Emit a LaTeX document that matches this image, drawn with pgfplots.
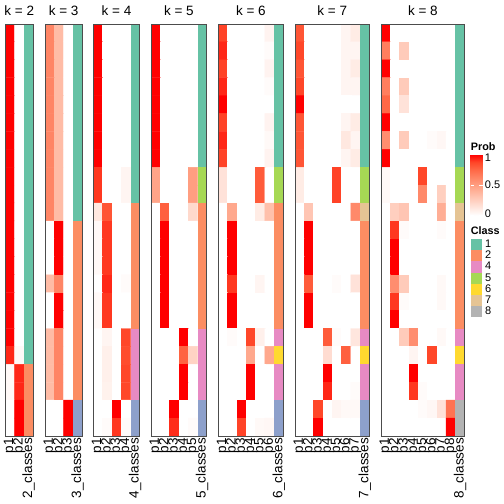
\documentclass[border=0pt]{standalone}
\usepackage{fontspec}
\setmainfont{Liberation Sans}
\usepackage{pgfplots}
\pgfplotsset{compat=1.18}
\definecolor{c1}{RGB}{102,194,165}
\definecolor{c2}{RGB}{252,141,98}
\definecolor{c3}{RGB}{141,160,203}
\definecolor{c4}{RGB}{231,138,195}
\definecolor{c5}{RGB}{166,216,84}
\definecolor{c6}{RGB}{255,217,47}
\definecolor{c7}{RGB}{229,196,148}
\definecolor{c8}{RGB}{179,179,179}
\newcommand{\cls}[5]{\addplot[draw=none, fill=#5, forget plot] coordinates {(#1,#3) (#2,#3) (#2,#4) (#1,#4)} --cycle;}
\pgfplotsset{
  colormap={prob}{rgb255=(255,255,255) rgb255=(255,231,223) rgb255=(255,207,191) rgb255=(255,183,160) rgb255=(255,158,129) rgb255=(255,132,100) rgb255=(255,104,70) rgb255=(255,70,40) rgb255=(255,0,0)},
  every axis title/.style={at={(0.5,1)}, anchor=base, yshift=8.3bp, inner sep=0pt, font=\fontsize{13.5bp}{16bp}\selectfont},
  hm/.style={
    scale only axis, height=412bp, anchor=north west,
    y dir=reverse, ymin=0.5, ymax=23.5, xmin=0.5,
    axis on top, axis line style={draw=black!70, line width=0.75bp},
    ytick=\empty, major tick length=0pt,
    xticklabel style={rotate=90, anchor=east, inner sep=0pt, inner xsep=2bp, font=\fontsize{13.5bp}{16bp}\selectfont},
    colormap name=prob, point meta min=0, point meta max=1,
  },
}
\begin{document}
\begin{tikzpicture}
\useasboundingbox (0,0) rectangle (504bp,-504bp);
% ---------------- k = 2
\begin{axis}[hm, at={(5.3bp,-24bp)}, width=27.9bp, xmax=3.5, xtick={1,2,3}, xticklabels={p1,p2,2\_classes}, title={k = 2}]
\addplot[matrix plot*, point meta=explicit, mesh/cols=2, forget plot] table[row sep=\\, meta=p] {
x y p\\
1 1 1\\ 2 1 0\\
1 2 1\\ 2 2 0\\
1 3 1\\ 2 3 0\\
1 4 1\\ 2 4 0\\
1 5 1\\ 2 5 0\\
1 6 1\\ 2 6 0\\
1 7 1\\ 2 7 0\\
1 8 1\\ 2 8 0\\
1 9 1\\ 2 9 0\\
1 10 1\\ 2 10 0\\
1 11 1\\ 2 11 0\\
1 12 1\\ 2 12 0\\
1 13 1\\ 2 13 0\\
1 14 1\\ 2 14 0\\
1 15 1\\ 2 15 0\\
1 16 1\\ 2 16 0\\
1 17 1\\ 2 17 0\\
1 18 1\\ 2 18 0\\
1 19 0.93\\ 2 19 0.03\\
1 20 0.03\\ 2 20 0.93\\
1 21 0.03\\ 2 21 0.93\\
1 22 0\\ 2 22 1\\
1 23 0\\ 2 23 1\\
};
\cls{2.5}{3.5}{0.5}{19.5}{c1}
\cls{2.5}{3.5}{19.5}{23.5}{c2}
\end{axis}
% ---------------- k = 3
\begin{axis}[hm, at={(45bp,-24bp)}, width=37.2bp, xmax=4.5, xtick={1,2,3,4}, xticklabels={p1,p2,p3,3\_classes}, title={k = 3}]
\addplot[matrix plot*, point meta=explicit, mesh/cols=3, forget plot] table[row sep=\\, meta=p] {
x y p\\
1 1 0.62\\ 2 1 0.35\\ 3 1 0\\
1 2 0.62\\ 2 2 0.35\\ 3 2 0\\
1 3 0.62\\ 2 3 0.35\\ 3 3 0\\
1 4 0.62\\ 2 4 0.35\\ 3 4 0\\
1 5 0.62\\ 2 5 0.35\\ 3 5 0\\
1 6 0.62\\ 2 6 0.35\\ 3 6 0\\
1 7 0.62\\ 2 7 0.35\\ 3 7 0\\
1 8 0.62\\ 2 8 0.35\\ 3 8 0\\
1 9 0.62\\ 2 9 0.35\\ 3 9 0\\
1 10 0.62\\ 2 10 0.35\\ 3 10 0\\
1 11 0.62\\ 2 11 0.35\\ 3 11 0\\
1 12 0\\ 2 12 1\\ 3 12 0\\
1 13 0\\ 2 13 1\\ 3 13 0\\
1 14 0\\ 2 14 1\\ 3 14 0\\
1 15 0.35\\ 2 15 0.62\\ 3 15 0\\
1 16 0\\ 2 16 1\\ 3 16 0\\
1 17 0\\ 2 17 1\\ 3 17 0\\
1 18 0.35\\ 2 18 0.62\\ 3 18 0\\
1 19 0.35\\ 2 19 0.62\\ 3 19 0\\
1 20 0.35\\ 2 20 0.62\\ 3 20 0\\
1 21 0.35\\ 2 21 0.62\\ 3 21 0\\
1 22 0\\ 2 22 0\\ 3 22 1\\
1 23 0\\ 2 23 0\\ 3 23 1\\
};
\cls{3.5}{4.5}{0.5}{11.5}{c1}
\cls{3.5}{4.5}{11.5}{21.5}{c2}
\cls{3.5}{4.5}{21.5}{23.5}{c3}
\end{axis}
% ---------------- k = 4
\begin{axis}[hm, at={(93.3bp,-24bp)}, width=46.5bp, xmax=5.5, xtick={1,2,3,4,5}, xticklabels={p1,p2,p3,p4,4\_classes}, title={k = 4}]
\addplot[matrix plot*, point meta=explicit, mesh/cols=4, forget plot] table[row sep=\\, meta=p] {
x y p\\
1 1 1\\ 2 1 0\\ 3 1 0\\ 4 1 0\\
1 2 1\\ 2 2 0\\ 3 2 0\\ 4 2 0\\
1 3 1\\ 2 3 0\\ 3 3 0\\ 4 3 0\\
1 4 1\\ 2 4 0\\ 3 4 0\\ 4 4 0\\
1 5 1\\ 2 5 0\\ 3 5 0\\ 4 5 0\\
1 6 1\\ 2 6 0\\ 3 6 0\\ 4 6 0\\
1 7 1\\ 2 7 0\\ 3 7 0\\ 4 7 0\\
1 8 1\\ 2 8 0\\ 3 8 0\\ 4 8 0\\
1 9 0.9\\ 2 9 0\\ 3 9 0\\ 4 9 0.05\\
1 10 0.9\\ 2 10 0\\ 3 10 0\\ 4 10 0.05\\
1 11 0.12\\ 2 11 0.82\\ 3 11 0\\ 4 11 0\\
1 12 0.03\\ 2 12 0.9\\ 3 12 0\\ 4 12 0\\
1 13 0.03\\ 2 13 0.9\\ 3 13 0\\ 4 13 0\\
1 14 0.03\\ 2 14 0.9\\ 3 14 0\\ 4 14 0\\
1 15 0\\ 2 15 0.93\\ 3 15 0\\ 4 15 0.02\\
1 16 0.03\\ 2 16 0.9\\ 3 16 0\\ 4 16 0\\
1 17 0.03\\ 2 17 0.9\\ 3 17 0\\ 4 17 0\\
1 18 0\\ 2 18 0.05\\ 3 18 0\\ 4 18 0.87\\
1 19 0\\ 2 19 0.08\\ 3 19 0\\ 4 19 0.85\\
1 20 0\\ 2 20 0.08\\ 3 20 0\\ 4 20 0.87\\
1 21 0\\ 2 21 0.07\\ 3 21 0\\ 4 21 0.87\\
1 22 0\\ 2 22 0\\ 3 22 1\\ 4 22 0\\
1 23 0\\ 2 23 0.02\\ 3 23 0.9\\ 4 23 0.02\\
};
\cls{4.5}{5.5}{0.5}{10.5}{c1}
\cls{4.5}{5.5}{10.5}{17.5}{c2}
\cls{4.5}{5.5}{17.5}{21.5}{c4}
\cls{4.5}{5.5}{21.5}{23.5}{c3}
\end{axis}
% ---------------- k = 5
\begin{axis}[hm, at={(151bp,-24bp)}, width=55.8bp, xmax=6.5, xtick={1,2,3,4,5,6}, xticklabels={p1,p2,p3,p4,p5,5\_classes}, title={k = 5}]
\addplot[matrix plot*, point meta=explicit, mesh/cols=5, forget plot] table[row sep=\\, meta=p] {
x y p\\
1 1 1\\ 2 1 0\\ 3 1 0\\ 4 1 0\\ 5 1 0\\
1 2 1\\ 2 2 0\\ 3 2 0\\ 4 2 0\\ 5 2 0\\
1 3 1\\ 2 3 0\\ 3 3 0\\ 4 3 0\\ 5 3 0\\
1 4 1\\ 2 4 0\\ 3 4 0\\ 4 4 0\\ 5 4 0\\
1 5 1\\ 2 5 0\\ 3 5 0\\ 4 5 0\\ 5 5 0\\
1 6 1\\ 2 6 0\\ 3 6 0\\ 4 6 0\\ 5 6 0\\
1 7 1\\ 2 7 0\\ 3 7 0\\ 4 7 0\\ 5 7 0\\
1 8 1\\ 2 8 0\\ 3 8 0\\ 4 8 0\\ 5 8 0\\
1 9 0.47\\ 2 9 0\\ 3 9 0\\ 4 9 0\\ 5 9 0.5\\
1 10 0.47\\ 2 10 0\\ 3 10 0\\ 4 10 0\\ 5 10 0.5\\
1 11 0\\ 2 11 0.78\\ 3 11 0\\ 4 11 0\\ 5 11 0.2\\
1 12 0\\ 2 12 1\\ 3 12 0\\ 4 12 0\\ 5 12 0\\
1 13 0\\ 2 13 1\\ 3 13 0\\ 4 13 0\\ 5 13 0\\
1 14 0\\ 2 14 1\\ 3 14 0\\ 4 14 0\\ 5 14 0\\
1 15 0\\ 2 15 1\\ 3 15 0\\ 4 15 0\\ 5 15 0\\
1 16 0\\ 2 16 1\\ 3 16 0\\ 4 16 0\\ 5 16 0\\
1 17 0\\ 2 17 1\\ 3 17 0\\ 4 17 0\\ 5 17 0\\
1 18 0\\ 2 18 0\\ 3 18 0\\ 4 18 1\\ 5 18 0\\
1 19 0\\ 2 19 0\\ 3 19 0\\ 4 19 0.77\\ 5 19 0.23\\
1 20 0\\ 2 20 0\\ 3 20 0\\ 4 20 1\\ 5 20 0\\
1 21 0\\ 2 21 0\\ 3 21 0\\ 4 21 1\\ 5 21 0\\
1 22 0\\ 2 22 0\\ 3 22 1\\ 4 22 0\\ 5 22 0\\
1 23 0\\ 2 23 0\\ 3 23 0.92\\ 4 23 0\\ 5 23 0.02\\
};
\cls{5.5}{6.5}{0.5}{8.5}{c1}
\cls{5.5}{6.5}{8.5}{10.5}{c5}
\cls{5.5}{6.5}{10.5}{17.5}{c2}
\cls{5.5}{6.5}{17.5}{21.5}{c4}
\cls{5.5}{6.5}{21.5}{23.5}{c3}
\end{axis}
% ---------------- k = 6
\begin{axis}[hm, at={(218.3bp,-24bp)}, width=65.1bp, xmax=7.5, xtick={1,2,3,4,5,6,7}, xticklabels={p1,p2,p3,p4,p5,p6,6\_classes}, title={k = 6}]
\addplot[matrix plot*, point meta=explicit, mesh/cols=6, forget plot] table[row sep=\\, meta=p] {
x y p\\
1 1 0.88\\ 2 1 0\\ 3 1 0\\ 4 1 0\\ 5 1 0\\ 6 1 0.06\\
1 2 0.93\\ 2 2 0\\ 3 2 0\\ 4 2 0\\ 5 2 0\\ 6 2 0.02\\
1 3 0.88\\ 2 3 0\\ 3 3 0\\ 4 3 0\\ 5 3 0\\ 6 3 0.06\\
1 4 0.93\\ 2 4 0\\ 3 4 0\\ 4 4 0\\ 5 4 0\\ 6 4 0.02\\
1 5 1\\ 2 5 0\\ 3 5 0\\ 4 5 0\\ 5 5 0\\ 6 5 0\\
1 6 0.88\\ 2 6 0\\ 3 6 0\\ 4 6 0\\ 5 6 0\\ 6 6 0.06\\
1 7 0.93\\ 2 7 0\\ 3 7 0\\ 4 7 0\\ 5 7 0\\ 6 7 0.03\\
1 8 0.88\\ 2 8 0\\ 3 8 0\\ 4 8 0\\ 5 8 0\\ 6 8 0.06\\
1 9 0.15\\ 2 9 0\\ 3 9 0\\ 4 9 0\\ 5 9 0.8\\ 6 9 0\\
1 10 0.15\\ 2 10 0\\ 3 10 0\\ 4 10 0\\ 5 10 0.8\\ 6 10 0\\
1 11 0\\ 2 11 0.45\\ 3 11 0\\ 4 11 0\\ 5 11 0.1\\ 6 11 0.33\\
1 12 0\\ 2 12 1\\ 3 12 0\\ 4 12 0\\ 5 12 0\\ 6 12 0\\
1 13 0\\ 2 13 1\\ 3 13 0\\ 4 13 0\\ 5 13 0\\ 6 13 0\\
1 14 0\\ 2 14 1\\ 3 14 0\\ 4 14 0\\ 5 14 0\\ 6 14 0\\
1 15 0\\ 2 15 0.9\\ 3 15 0\\ 4 15 0\\ 5 15 0.05\\ 6 15 0\\
1 16 0\\ 2 16 1\\ 3 16 0\\ 4 16 0\\ 5 16 0\\ 6 16 0\\
1 17 0\\ 2 17 1\\ 3 17 0\\ 4 17 0\\ 5 17 0\\ 6 17 0\\
1 18 0\\ 2 18 0.02\\ 3 18 0\\ 4 18 0.87\\ 5 18 0.08\\ 6 18 0\\
1 19 0\\ 2 19 0\\ 3 19 0\\ 4 19 0.45\\ 5 19 0\\ 6 19 0.45\\
1 20 0\\ 2 20 0\\ 3 20 0\\ 4 20 1\\ 5 20 0\\ 6 20 0\\
1 21 0\\ 2 21 0\\ 3 21 0\\ 4 21 1\\ 5 21 0\\ 6 21 0\\
1 22 0\\ 2 22 0\\ 3 22 1\\ 4 22 0\\ 5 22 0\\ 6 22 0\\
1 23 0\\ 2 23 0\\ 3 23 0.88\\ 4 23 0\\ 5 23 0.03\\ 6 23 0.04\\
};
\cls{6.5}{7.5}{0.5}{8.5}{c1}
\cls{6.5}{7.5}{8.5}{10.5}{c5}
\cls{6.5}{7.5}{10.5}{17.5}{c2}
\cls{6.5}{7.5}{17.5}{18.5}{c4}
\cls{6.5}{7.5}{18.5}{19.5}{c6}
\cls{6.5}{7.5}{19.5}{21.5}{c4}
\cls{6.5}{7.5}{21.5}{23.5}{c3}
\end{axis}
% ---------------- k = 7
\begin{axis}[hm, at={(295bp,-24bp)}, width=74.4bp, xmax=8.5, xtick={1,2,3,4,5,6,7,8}, xticklabels={p1,p2,p3,p4,p5,p6,p7,7\_classes}, title={k = 7}]
\addplot[matrix plot*, point meta=explicit, mesh/cols=7, forget plot] table[row sep=\\, meta=p] {
x y p\\
1 1 0.82\\ 2 1 0\\ 3 1 0\\ 4 1 0\\ 5 1 0\\ 6 1 0.05\\ 7 1 0.1\\
1 2 0.87\\ 2 2 0\\ 3 2 0\\ 4 2 0\\ 5 2 0\\ 6 2 0.05\\ 7 2 0.05\\
1 3 0.82\\ 2 3 0\\ 3 3 0\\ 4 3 0\\ 5 3 0\\ 6 3 0.05\\ 7 3 0.1\\
1 4 0.87\\ 2 4 0\\ 3 4 0\\ 4 4 0\\ 5 4 0\\ 6 4 0.05\\ 7 4 0.05\\
1 5 1\\ 2 5 0\\ 3 5 0\\ 4 5 0\\ 5 5 0\\ 6 5 0\\ 7 5 0\\
1 6 0.82\\ 2 6 0\\ 3 6 0\\ 4 6 0\\ 5 6 0\\ 6 6 0.05\\ 7 6 0.1\\
1 7 0.82\\ 2 7 0\\ 3 7 0\\ 4 7 0\\ 5 7 0\\ 6 7 0.12\\ 7 7 0.05\\
1 8 0.82\\ 2 8 0\\ 3 8 0\\ 4 8 0\\ 5 8 0\\ 6 8 0.05\\ 7 8 0.1\\
1 9 0.1\\ 2 9 0\\ 3 9 0\\ 4 9 0\\ 5 9 0.88\\ 6 9 0\\ 7 9 0\\
1 10 0.1\\ 2 10 0\\ 3 10 0\\ 4 10 0\\ 5 10 0.88\\ 6 10 0\\ 7 10 0\\
1 11 0\\ 2 11 0.3\\ 3 11 0\\ 4 11 0\\ 5 11 0\\ 6 11 0\\ 7 11 0.6\\
1 12 0\\ 2 12 1\\ 3 12 0\\ 4 12 0\\ 5 12 0\\ 6 12 0\\ 7 12 0\\
1 13 0\\ 2 13 1\\ 3 13 0\\ 4 13 0\\ 5 13 0\\ 6 13 0\\ 7 13 0\\
1 14 0\\ 2 14 1\\ 3 14 0\\ 4 14 0\\ 5 14 0\\ 6 14 0\\ 7 14 0\\
1 15 0\\ 2 15 0.8\\ 3 15 0\\ 4 15 0\\ 5 15 0.02\\ 6 15 0\\ 7 15 0.15\\
1 16 0\\ 2 16 1\\ 3 16 0\\ 4 16 0\\ 5 16 0\\ 6 16 0\\ 7 16 0\\
1 17 0\\ 2 17 1\\ 3 17 0\\ 4 17 0\\ 5 17 0\\ 6 17 0\\ 7 17 0\\
1 18 0\\ 2 18 0\\ 3 18 0\\ 4 18 0.8\\ 5 18 0.02\\ 6 18 0\\ 7 18 0.13\\
1 19 0\\ 2 19 0\\ 3 19 0\\ 4 19 0.18\\ 5 19 0\\ 6 19 0.78\\ 7 19 0\\
1 20 0\\ 2 20 0\\ 3 20 0\\ 4 20 1\\ 5 20 0\\ 6 20 0\\ 7 20 0\\
1 21 0\\ 2 21 0\\ 3 21 0\\ 4 21 0.93\\ 5 21 0\\ 6 21 0\\ 7 21 0.02\\
1 22 0\\ 2 22 0\\ 3 22 0.87\\ 4 22 0\\ 5 22 0.05\\ 6 22 0.03\\ 7 22 0.03\\
1 23 0\\ 2 23 0\\ 3 23 1\\ 4 23 0\\ 5 23 0\\ 6 23 0\\ 7 23 0\\
};
\cls{7.5}{8.5}{0.5}{8.5}{c1}
\cls{7.5}{8.5}{8.5}{10.5}{c5}
\cls{7.5}{8.5}{10.5}{11.5}{c7}
\cls{7.5}{8.5}{11.5}{17.5}{c2}
\cls{7.5}{8.5}{17.5}{18.5}{c4}
\cls{7.5}{8.5}{18.5}{19.5}{c6}
\cls{7.5}{8.5}{19.5}{21.5}{c4}
\cls{7.5}{8.5}{21.5}{23.5}{c3}
\end{axis}
% ---------------- k = 8
\begin{axis}[hm, at={(381bp,-24bp)}, width=83.7bp, xmax=9.5, xtick={1,2,3,4,5,6,7,8,9}, xticklabels={p1,p2,p3,p4,p5,p6,p7,p8,8\_classes}, title={k = 8},
  colorbar, colorbar shift/.style={},
  colorbar style={at={(parent axis.north east)}, anchor=north west, xshift=6bp, yshift=-130.5bp,
    width=12bp, height=61bp, scale only axis, y dir=normal, axis line style={draw=none}, axis on top,
    ytick={0,0.5,1}, yticklabels={,,}, ytick style={draw=white, line width=0.6bp},
    major tick length=3.5bp, tick align=inside, ytick pos=both, yticklabel pos=right,
    extra y ticks={0.036,0.5,0.94}, extra y tick labels={0,0.5,1},
    extra y tick style={major tick length=0pt},
    yticklabel style={font=\fontsize{11bp}{12bp}\selectfont, inner sep=0pt, xshift=2bp, anchor=west}},
  legend style={at={(1,1)}, anchor=north west, xshift=6bp, yshift=-215bp, draw=none, fill=none,
    inner sep=0pt, row sep=0pt, column sep=3.3bp, font=\fontsize{11bp}{12bp}\selectfont,
    nodes={inner sep=0pt}, cells={anchor=west}},
  legend image code/.code={\fill[#1] (0bp,-5.55bp) rectangle (11bp,5.55bp);},
]
\addplot[matrix plot*, point meta=explicit, mesh/cols=8, forget plot] table[row sep=\\, meta=p] {
x y p\\
1 1 1\\ 2 1 0\\ 3 1 0\\ 4 1 0\\ 5 1 0\\ 6 1 0\\ 7 1 0\\ 8 1 0\\
1 2 0.65\\ 2 2 0\\ 3 2 0.27\\ 4 2 0\\ 5 2 0\\ 6 2 0\\ 7 2 0\\ 8 2 0\\
1 3 1\\ 2 3 0\\ 3 3 0\\ 4 3 0\\ 5 3 0\\ 6 3 0\\ 7 3 0\\ 8 3 0\\
1 4 0.65\\ 2 4 0\\ 3 4 0.27\\ 4 4 0\\ 5 4 0\\ 6 4 0\\ 7 4 0\\ 8 4 0\\
1 5 0.75\\ 2 5 0\\ 3 5 0.15\\ 4 5 0\\ 5 5 0\\ 6 5 0\\ 7 5 0\\ 8 5 0\\
1 6 1\\ 2 6 0\\ 3 6 0\\ 4 6 0\\ 5 6 0\\ 6 6 0\\ 7 6 0\\ 8 6 0\\
1 7 0.58\\ 2 7 0\\ 3 7 0.27\\ 4 7 0\\ 5 7 0\\ 6 7 0.02\\ 7 7 0.04\\ 8 7 0\\
1 8 1\\ 2 8 0\\ 3 8 0\\ 4 8 0\\ 5 8 0\\ 6 8 0\\ 7 8 0\\ 8 8 0\\
1 9 0.03\\ 2 9 0\\ 3 9 0\\ 4 9 0\\ 5 9 0.87\\ 6 9 0\\ 7 9 0\\ 8 9 0\\
1 10 0.03\\ 2 10 0\\ 3 10 0\\ 4 10 0\\ 5 10 0.6\\ 6 10 0\\ 7 10 0.25\\ 8 10 0\\
1 11 0\\ 2 11 0.25\\ 3 11 0.3\\ 4 11 0\\ 5 11 0\\ 6 11 0\\ 7 11 0.42\\ 8 11 0\\
1 12 0\\ 2 12 0.9\\ 3 12 0.02\\ 4 12 0\\ 5 12 0\\ 6 12 0\\ 7 12 0.02\\ 8 12 0\\
1 13 0\\ 2 13 1\\ 3 13 0\\ 4 13 0\\ 5 13 0\\ 6 13 0\\ 7 13 0\\ 8 13 0\\
1 14 0\\ 2 14 1\\ 3 14 0\\ 4 14 0\\ 5 14 0\\ 6 14 0\\ 7 14 0\\ 8 14 0\\
1 15 0\\ 2 15 0.58\\ 3 15 0.27\\ 4 15 0\\ 5 15 0\\ 6 15 0\\ 7 15 0.03\\ 8 15 0\\
1 16 0\\ 2 16 0.9\\ 3 16 0.02\\ 4 16 0\\ 5 16 0\\ 6 16 0\\ 7 16 0.03\\ 8 16 0\\
1 17 0\\ 2 17 1\\ 3 17 0\\ 4 17 0\\ 5 17 0\\ 6 17 0\\ 7 17 0\\ 8 17 0\\
1 18 0\\ 2 18 0\\ 3 18 0.27\\ 4 18 0.58\\ 5 18 0\\ 6 18 0\\ 7 18 0.03\\ 8 18 0\\
1 19 0\\ 2 19 0\\ 3 19 0\\ 4 19 0.05\\ 5 19 0\\ 6 19 0.87\\ 7 19 0\\ 8 19 0\\
1 20 0\\ 2 20 0\\ 3 20 0\\ 4 20 1\\ 5 20 0\\ 6 20 0\\ 7 20 0\\ 8 20 0\\
1 21 0\\ 2 21 0\\ 3 21 0\\ 4 21 0.9\\ 5 21 0.02\\ 6 21 0\\ 7 21 0\\ 8 21 0\\
1 22 0\\ 2 22 0\\ 3 22 0\\ 4 22 0\\ 5 22 0.02\\ 6 22 0.04\\ 7 22 0.15\\ 8 22 0.7\\
1 23 0\\ 2 23 0\\ 3 23 0\\ 4 23 0\\ 5 23 0\\ 6 23 0\\ 7 23 0\\ 8 23 1\\
};
\cls{8.5}{9.5}{0.5}{8.5}{c1}
\cls{8.5}{9.5}{8.5}{10.5}{c5}
\cls{8.5}{9.5}{10.5}{11.5}{c7}
\cls{8.5}{9.5}{11.5}{17.5}{c2}
\cls{8.5}{9.5}{17.5}{18.5}{c4}
\cls{8.5}{9.5}{18.5}{19.5}{c6}
\cls{8.5}{9.5}{19.5}{21.5}{c4}
\cls{8.5}{9.5}{21.5}{23.5}{c8}
\addlegendimage{fill=c1, draw=none}\addlegendentry{1}
\addlegendimage{fill=c2, draw=none}\addlegendentry{2}
\addlegendimage{fill=c4, draw=none}\addlegendentry{4}
\addlegendimage{fill=c5, draw=none}\addlegendentry{5}
\addlegendimage{fill=c6, draw=none}\addlegendentry{6}
\addlegendimage{fill=c7, draw=none}\addlegendentry{7}
\addlegendimage{fill=c8, draw=none}\addlegendentry{8}
\end{axis}
\node[anchor=base west, inner sep=0pt, font=\bfseries\fontsize{10.8bp}{12bp}\selectfont] at (470.7bp,-150bp) {Prob};
\node[anchor=base west, inner sep=0pt, font=\bfseries\fontsize{10.8bp}{12bp}\selectfont] at (470.7bp,-234.3bp) {Class};
\end{tikzpicture}
\end{document}
